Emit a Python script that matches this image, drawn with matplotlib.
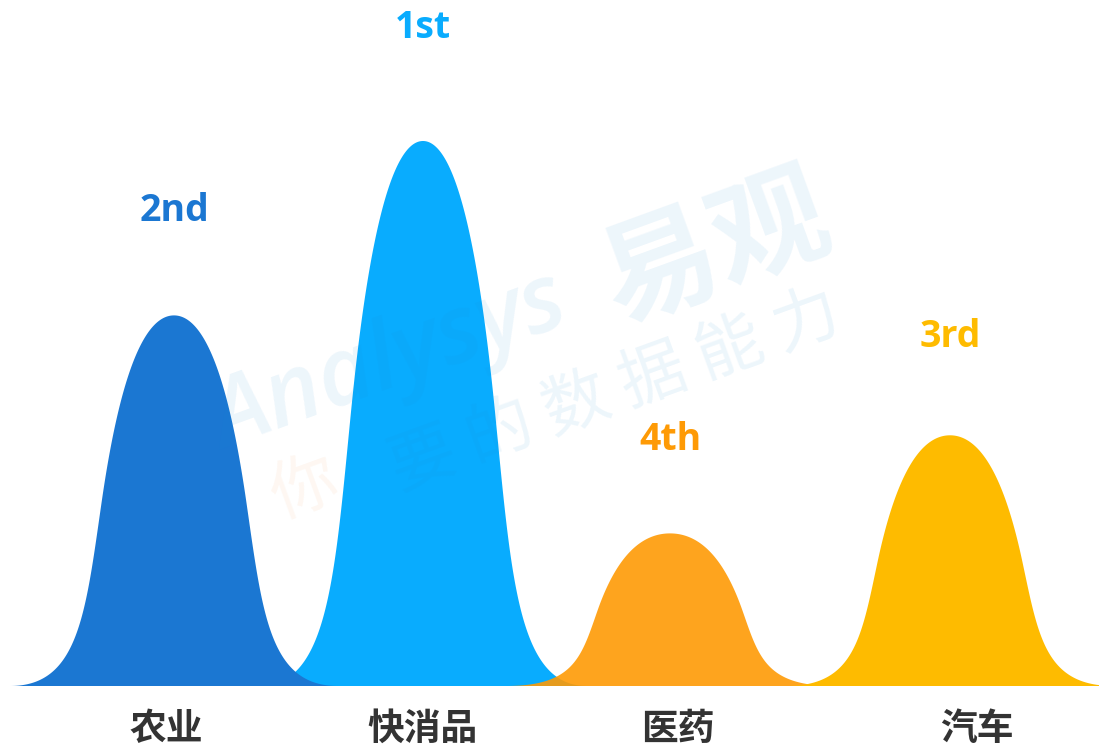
import numpy as np
import matplotlib
matplotlib.use("Agg")
import matplotlib.pyplot as plt

plt.rcParams['font.family'] = ['Noto Sans CJK SC', 'DejaVu Sans']

# 数据
categories = ['农业', '快消品', '医药', '汽车']
values = [68, 100, 28, 46]
ranks = ['2nd', '1st', '4th', '3rd']
colors = ['#1b77d2', '#09acfe', '#fe9a05', '#febb00']
alphas = [1.0, 1.0, 0.9, 1.0]
draw_order = [1, 0, 2, 3]   # 快消品在最底层

# 布局 (x 轴单位与画布像素一致)
peak_x = [174, 423, 670, 950]
label_x = [166, 422, 678, 977]
bell_width = 328


def bezier(p0, p1, p2, p3, n=200):
    t = np.linspace(0, 1, n)[:, None]
    p0, p1, p2, p3 = map(np.array, (p0, p1, p2, p3))
    return ((1 - t) ** 3) * p0 + 3 * t * (1 - t) ** 2 * p1 + 3 * t ** 2 * (1 - t) * p2 + t ** 3 * p3


# 半边钟形轮廓 (r: 0=中心, 1=底边端点; v: 0~1 高度)
seg1 = bezier((1.0, 0.0), (0.58, 0.0), (0.54, 0.195), (0.44, 0.5))
seg2 = bezier((0.44, 0.5), (0.34, 0.805), (0.2, 1.0), (0.0, 1.0))
half = np.vstack([seg1, seg2[1:]])          # 从右端到顶点
r_right, v_right = half[:, 0], half[:, 1]
r_all = np.concatenate([-r_right, r_right[::-1]])
v_all = np.concatenate([v_right, v_right[::-1]])

fig = plt.figure(figsize=(10.99, 7.51), dpi=100)
ax = fig.add_axes([0, 65 / 751, 1, 686 / 751])
ax.set_xlim(0, 1099)
ax.set_ylim(0, 686 / 5.45)
ax.axis('off')

for i in draw_order:
    xs = peak_x[i] + r_all * bell_width / 2
    ys = values[i] * v_all
    ax.fill(xs, ys, color=colors[i], alpha=alphas[i], lw=0, zorder=2 + draw_order.index(i))
    ax.text(peak_x[i], values[i] + 15.7 + 0.05 * values[i], ranks[i], color=colors[i],
            fontsize=27, fontweight='bold', family=['Open Sans', 'DejaVu Sans'],
            ha='center', va='center', zorder=10)
    ax.text(label_x[i], -7.9, categories[i], color='#333333', fontsize=26.5,
            fontweight='bold', ha='center', va='center', clip_on=False, zorder=10)

# 水印
wm = '#1a8ad4'
fig.text(0.355, 0.515, 'Analysys', color=wm, alpha=0.08, fontsize=68,
         fontstyle='italic', fontweight='semibold', family=['Open Sans', 'DejaVu Sans'],
         rotation=20, ha='center', va='center', zorder=20)
fig.text(0.651, 0.667, '易观', color=wm, alpha=0.08, fontsize=84,
         fontweight='bold', rotation=20, ha='center', va='center', zorder=20)
fig.text(0.278, 0.348, '你', color='#f08a3c', alpha=0.07, fontsize=48,
         fontweight='light', rotation=20, ha='center', va='center', zorder=20)
fig.text(0.560, 0.478, '要 的 数 据 能 力', color=wm, alpha=0.08, fontsize=48,
         fontweight='light', rotation=20, ha='center', va='center', zorder=20)

fig.savefig('out.png', dpi=100, facecolor='white')
